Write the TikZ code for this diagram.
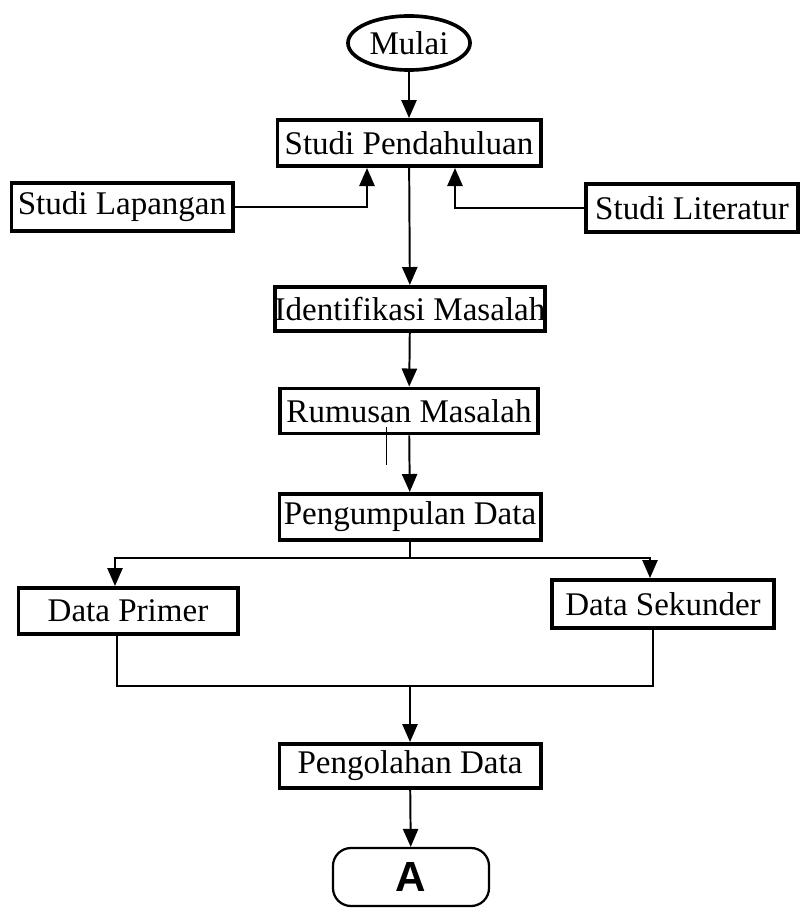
\documentclass[tikz,border=0pt]{standalone}
\usepackage{fontspec}
\setmainfont{Liberation Serif}
\newfontfamily\hurufsans{Liberation Sans}
\usetikzlibrary{shapes.geometric, arrows.meta}

\begin{document}
\begin{tikzpicture}[x=0.025cm, y=-0.025cm, >={Triangle[length=4.5mm, width=3.8mm]},
        kotak/.style={draw, line width=2.8pt, inner sep=0pt, font=\fontsize{23.5}{26}\selectfont},
        panah/.style={->, line width=1.4pt},
        garis/.style={line width=1.4pt}]
    \useasboundingbox (0,0) rectangle (804,911);
    % urutan utama
    \node[draw, ellipse, line width=2.6pt, inner sep=0pt, minimum width=3.05cm, minimum height=1.35cm, font=\fontsize{23.5}{26}\selectfont] (mulai) at (409,43) {Mulai};
    \node[kotak, minimum width=6.575cm, minimum height=1.15cm] (pendahuluan) at (409,143) {Studi Pendahuluan};
    \node[kotak, minimum width=5.525cm, minimum height=1.2cm] (lapangan) at (122,207) {Studi Lapangan};
    \node[kotak, minimum width=5.3cm, minimum height=1.2cm] (literatur) at (692,208) {Studi Literatur};
    \node[kotak, minimum width=6.625cm, minimum height=1.1cm] (identifikasi) at (410,309) {Identifikasi Masalah};
    \node[kotak, minimum width=6.45cm, minimum height=1.125cm] (rumusan) at (409,411) {Rumusan Masalah};
    \node[kotak, minimum width=6.525cm, minimum height=1.15cm] (pengumpulan) at (410,517) {Pengumpulan Data};
    \node[kotak, minimum width=5.475cm, minimum height=1.15cm] (primer) at (128,611) {Data Primer};
    \node[kotak, minimum width=5.55cm, minimum height=1.2cm] (sekunder) at (663,604) {Data Sekunder};
    \node[kotak, minimum width=6.525cm, minimum height=1.1cm] (pengolahan) at (410,766) {Pengolahan Data};
    \node[draw, rounded corners=0.45cm, line width=1.6pt, inner sep=0pt, minimum width=3.9cm, minimum height=1.45cm, font=\hurufsans\bfseries\fontsize{30}{32}\selectfont] (a) at (411,877) {A};
    % titik bantu
    \coordinate (masukkiri) at (367,168);
    \coordinate (masukkanan) at (455,168);
    \coordinate (cabang) at (410,558);
    \coordinate (gabung) at (410,686);
    % panah
    \draw[panah] (mulai) -- (pendahuluan);
    \draw[panah] (lapangan.east) -| (masukkiri);
    \draw[panah] (literatur.west) -| (masukkanan);
    \draw[panah] (pendahuluan) -- (identifikasi);
    \draw[panah] (identifikasi) -- (rumusan);
    \draw[panah] (rumusan) -- (pengumpulan);
    \draw[garis] (pengumpulan) -- (cabang);
    \draw[panah] (cabang) -| ([xshift=-0.325cm]primer.north);
    \draw[panah] (cabang) -| ([xshift=-0.325cm]sekunder.north);
    \draw[garis] ([xshift=-0.275cm]primer.south) |- (gabung) -| ([xshift=-0.25cm]sekunder.south);
    \draw[panah] (gabung) -- (pengolahan);
    \draw[panah] (pengolahan) -- (a);
    \draw[line width=0.6pt] (386,427) -- (386,465);
\end{tikzpicture}
\end{document}
